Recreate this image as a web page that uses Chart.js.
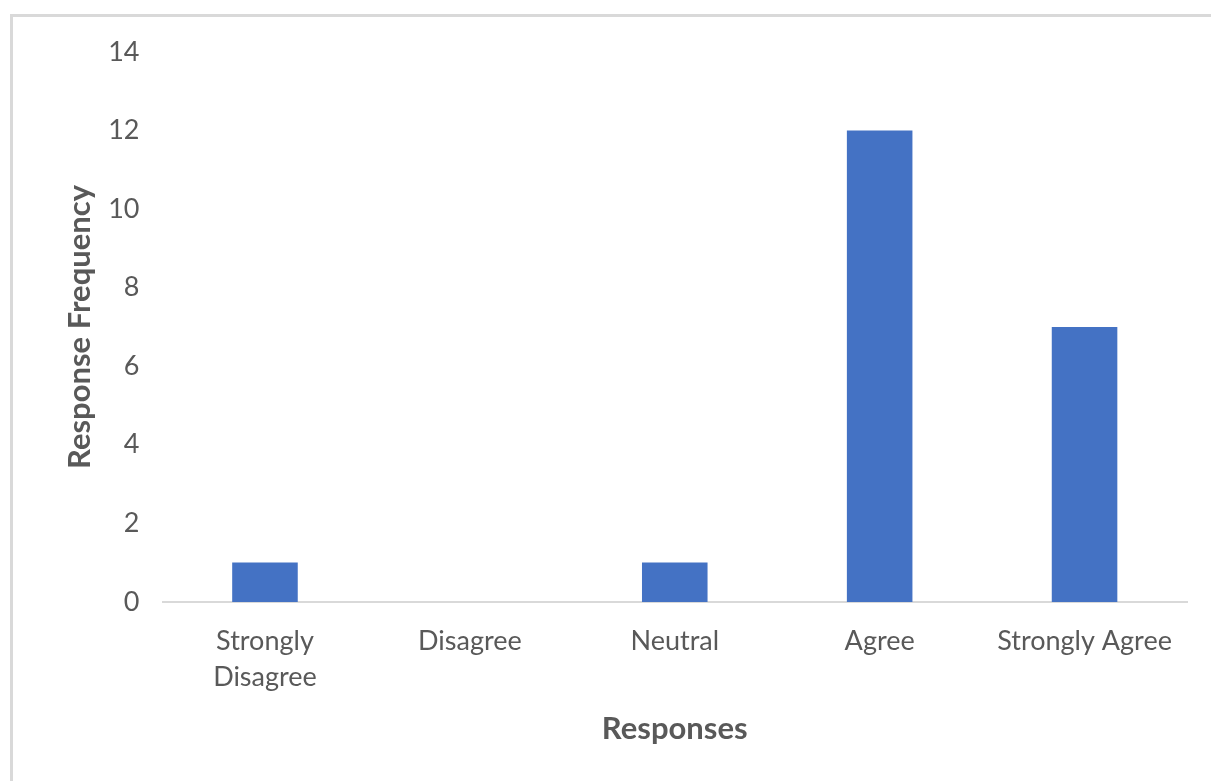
<!DOCTYPE html>
<html lang="en">
<head>
    <meta charset="UTF-8">
    <title>Response Frequency</title>
    <script src="https://cdn.jsdelivr.net/npm/chart.js"></script>
    <style>
        html, body { margin: 0; padding: 0; background: #fff; overflow: hidden; }
        .frame {
            position: absolute; left: 10px; top: 14px;
            width: 1240px; height: 800px;
            border: 3px solid #d9d9d9;
        }
        .chartBox { position: absolute; left: 0; top: 0; width: 1211px; height: 781px; }
    </style>
</head>
<body>
    <div class="frame"></div>
    <div class="chartBox">
        <canvas id="canvas_chart"></canvas>
    </div>
<script>
    // dados do gráfico
    const categorias = [['Strongly', 'Disagree'], 'Disagree', 'Neutral', 'Agree', 'Strongly Agree'];
    const frequencias = [1, 0, 1, 12, 7];
    const ticksY = [0, 2, 4, 6, 8, 10, 12, 14];

    const fonte = 'Lato, "Open Sans", sans-serif';
    const cinza = '#595959';

    const config = {
        type: 'bar',
        data: {
            labels: categorias,
            datasets: [{
                data: frequencias,
                backgroundColor: '#4472c4',
                barPercentage: 0.32,
                categoryPercentage: 1
            }]
        },
        options: {
            responsive: true,
            maintainAspectRatio: false,
            animation: false,
            layout: { padding: { left: 61, right: 24, top: 52, bottom: 33 } },
            plugins: { legend: { display: false }, tooltip: { enabled: false } },
            scales: {
                x: {
                    grid: { display: false },
                    border: { display: true, color: '#d9d9d9', width: 2 },
                    ticks: { color: cinza, font: { family: fonte, size: 27, lineHeight: 1.35 }, padding: 13, maxRotation: 0 },
                    title: { display: true, text: 'Responses', color: cinza, font: { family: fonte, size: 31, weight: 'bold' }, padding: { top: 2, bottom: 0 } }
                },
                y: {
                    min: 0, max: 14,
                    afterBuildTicks: (axis) => { axis.ticks = ticksY.map(v => ({ value: v })); },
                    grid: { display: false },
                    border: { display: false },
                    ticks: { color: cinza, font: { family: fonte, size: 27 }, padding: 15 },
                    title: { display: true, text: 'Response Frequency', color: cinza, font: { family: fonte, size: 31, weight: 'bold' }, padding: { top: 0, bottom: -5 } }
                }
            }
        }
    };

    new Chart(document.getElementById('canvas_chart'), config);
</script>
</body>
</html>
